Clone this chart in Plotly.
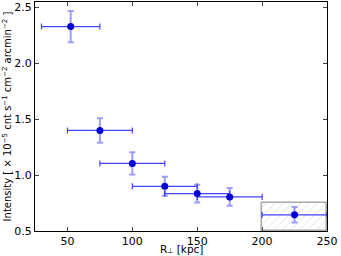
import plotly.graph_objects as go

r_kpc = [52.5, 75, 100, 125, 150, 175, 225]
r_err_lo = [22.5, 25, 25, 25, 25, 25, 25]
r_err_hi = [22.5, 25, 25, 25, 25, 25, 25]
intensity = [2.33, 1.40, 1.105, 0.90, 0.835, 0.805, 0.645]
intensity_err = [0.14, 0.11, 0.10, 0.085, 0.08, 0.08, 0.07]

box_r = [200, 250]
box_i = [0.5, 0.75]

x_ticks = [50, 100, 150, 200, 250]
y_ticks = [0.5, 1.0, 1.5, 2.0, 2.5]

fig = go.Figure()

fig.add_trace(go.Bar(
    x=[(box_r[0] + box_r[1]) / 2], y=[box_i[1] - box_i[0]], base=[box_i[0]],
    width=[box_r[1] - box_r[0]],
    marker=dict(color="rgba(255,255,255,0)",
                line=dict(color="#a8a8a8", width=1.5),
                pattern=dict(shape="/", fgcolor="#bdbdbd", bgcolor="rgba(255,255,255,0)",
                             size=6, solidity=0.15)),
    showlegend=False, hoverinfo="skip",
))

fig.add_trace(go.Scatter(
    x=r_kpc, y=intensity, mode="markers",
    marker=dict(color="#0000dd", size=7),
    error_x=dict(type="data", symmetric=False, array=r_err_hi, arrayminus=r_err_lo,
                 color="rgba(20,20,255,0.8)", thickness=1.2, width=3),
    error_y=dict(type="data", array=intensity_err,
                 color="rgba(60,60,255,0.5)", thickness=2, width=3),
    showlegend=False,
))

fig.update_layout(
    width=341, height=256,
    margin=dict(l=35, r=14, t=2, b=25),
    paper_bgcolor="white", plot_bgcolor="white",
    font=dict(family="DejaVu Sans", size=11, color="black"),
    bargap=0,
)
fig.add_annotation(
    text="R<span style='font-size:7px'>⊥</span> [kpc]", xref="paper", yref="paper", x=0.5, y=-0.108,
    xanchor="center", yanchor="bottom", showarrow=False,
    font=dict(size=10.5), borderpad=0,
)
fig.update_xaxes(
    range=[25, 250], tickvals=x_ticks, ticks="inside", ticklen=4,
    showline=True, linecolor="black", linewidth=1, mirror="ticks",
    showgrid=False, zeroline=False, automargin=False,
)
fig.update_yaxes(
    range=[0.5, 2.55], tickvals=y_ticks, tickformat=".1f", ticks="inside", ticklen=4,
    showline=True, linecolor="black", linewidth=1, mirror="ticks",
    showgrid=False, zeroline=False, automargin=False,
    title=dict(text="Intensity [ × 10<sup>−5</sup> cnt s<sup>−1</sup> cm<sup>−2</sup> arcmin<sup>−2</sup> ]",
               standoff=0, font=dict(size=10)),
)

fig.write_html("out.html", config={"displayModeBar": False},
               post_script="document.body.style.margin='0';document.body.style.overflow='hidden';")
